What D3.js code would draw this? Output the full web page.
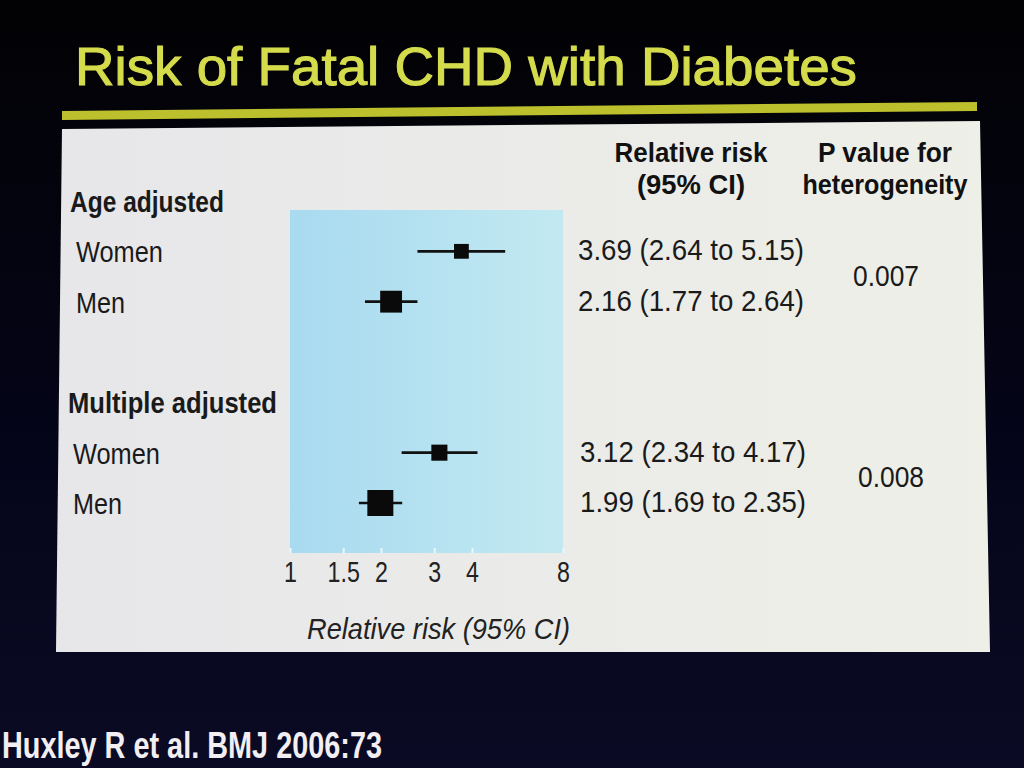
<!DOCTYPE html>
<html>
<head>
<meta charset="utf-8">
<script src="https://cdn.jsdelivr.net/npm/d3@7"></script>
<style>
  html, body { margin: 0; padding: 0; background: #04040a; }
  svg { display: block; }
</style>
</head>
<body>
<div id="chart"></div>
<script>
// forest plot data
var groups = ["Age adjusted", "Multiple adjusted"];
var subgroups = ["Women", "Men", "Women", "Men"];
var rr = [3.69, 2.16, 3.12, 1.99];
var ciLow = [2.64, 1.77, 2.34, 1.69];
var ciHigh = [5.15, 2.64, 4.17, 2.35];
var weights = [2.2, 4.8, 2.6, 6.8];
var pValues = ["0.007", "0.008"];
var tickValues = [1, 1.5, 2, 3, 4, 8];

var width = 1024;
var height = 768;
var font = "'Liberation Sans', Arial, Helvetica, sans-serif";

var svg = d3.select("#chart").append("svg")
	.attr("width", width)
	.attr("height", height);

//squeeze a text horizontally so it looks like a condensed face
function squash(sel, factor)
{
	sel.each(function()
	{
		var len = this.getComputedTextLength();
		d3.select(this)
			.attr("textLength", len * factor)
			.attr("lengthAdjust", "spacingAndGlyphs");
	});
}

var defs = svg.append("defs");

var bg = defs.append("linearGradient").attr("id", "bg")
	.attr("x1", 0).attr("y1", 0).attr("x2", 0).attr("y2", 1);
bg.append("stop").attr("offset", "0").attr("stop-color", "#020204");
bg.append("stop").attr("offset", "0.6").attr("stop-color", "#05051a");
bg.append("stop").attr("offset", "1").attr("stop-color", "#0a0a24");

var panelGrad = defs.append("linearGradient").attr("id", "panel")
	.attr("x1", 0).attr("y1", 0).attr("x2", 1).attr("y2", 0);
panelGrad.append("stop").attr("offset", "0").attr("stop-color", "#e7e7ea");
panelGrad.append("stop").attr("offset", "1").attr("stop-color", "#eeefe7");

var shade = defs.append("linearGradient").attr("id", "shade")
	.attr("x1", 0).attr("y1", 0).attr("x2", 1).attr("y2", 0);
shade.append("stop").attr("offset", "0").attr("stop-color", "#a8daf0");
shade.append("stop").attr("offset", "1").attr("stop-color", "#c2e9f1");

// slide background
svg.append("rect")
	.attr("width", width)
	.attr("height", height)
	.attr("fill", "url(#bg)");

// title
svg.append("text")
	.attr("x", 75)
	.attr("y", 85)
	.attr("textLength", 782)
	.attr("lengthAdjust", "spacingAndGlyphs")
	.style("font-family", font)
	.style("font-size", "54px")
	.style("fill", "#d5dc4c")
	.style("stroke", "#d5dc4c")
	.style("stroke-width", 1.1)
	.text("Risk of Fatal CHD with Diabetes");

// yellow rule under the title (photo is slightly tilted)
svg.append("polygon")
	.attr("points", "62,111 977,102 977,111 62,120")
	.attr("fill", "#bcc02c");

// white panel
svg.append("polygon")
	.attr("points", "62,129 980,121 990,652 56,652")
	.attr("fill", "url(#panel)");

// scales
var x = d3.scaleLog()
	.domain([1, 8])
	.range([290, 563]);

//row list: header, subgroup rows, spacer between groups
var rows = [];
groups.forEach(function(g, gi)
{
	if(gi > 0)
	{
		rows.push({key: "gap" + gi, type: "gap"});
	}
	rows.push({key: "h" + gi, type: "header", label: g});
	for(var i = gi * 2; i < gi * 2 + 2; i++)
	{
		rows.push({key: "r" + i, type: "row", label: subgroups[i], index: i});
	}
});

var y = d3.scalePoint()
	.domain(rows.map(function(r) { return r.key; }))
	.range([201, 503]);

var size = d3.scaleSqrt()
	.domain([0, d3.max(weights)])
	.range([0, 26]);

// shaded plot area
var plotTop = 210;
var plotBottom = 553;
svg.append("rect")
	.attr("x", x(1))
	.attr("y", plotTop)
	.attr("width", x(8) - x(1))
	.attr("height", plotBottom - plotTop)
	.attr("fill", "url(#shade)");

// axis
var axis = d3.axisBottom(x)
	.tickValues(tickValues)
	.tickFormat(d3.format(""))
	.tickSizeInner(-5)
	.tickSizeOuter(0)
	.tickPadding(8);

var axisG = svg.append("g")
	.attr("transform", "translate(0," + plotBottom + ")")
	.call(axis);
axisG.select(".domain").remove();
axisG.selectAll(".tick line")
	.attr("stroke", "#eaf7fb")
	.attr("stroke-width", 2);
axisG.selectAll(".tick text")
	.style("font-family", font)
	.style("font-size", "29px")
	.style("fill", "#222")
	.call(squash, 0.8);

svg.append("text")
	.attr("x", 307)
	.attr("y", 639)
	.attr("textLength", 263)
	.attr("lengthAdjust", "spacingAndGlyphs")
	.style("font-family", font)
	.style("font-style", "italic")
	.style("font-size", "30px")
	.style("fill", "#222")
	.text("Relative risk (95% CI)");

// left labels
var labelRows = rows.filter(function(r) { return r.type != "gap"; });
svg.selectAll(".rowlabel")
	.data(labelRows)
	.enter().append("text")
	.attr("class", "rowlabel")
	.attr("x", function(d)
		{
			if(d.type == "header")
			{
				return d.key == "h0" ? 70 : 68;
			}
			return d.index < 2 ? 76 : 73;
		})
	.attr("y", function(d) { return y(d.key) + 11; })
	.attr("textLength", function(d)
		{
			if(d.type == "header")
			{
				return d.key == "h0" ? 154 : 209;
			}
			return d.label == "Women" ? 87 : 49;
		})
	.attr("lengthAdjust", "spacingAndGlyphs")
	.style("font-family", font)
	.style("font-weight", function(d) { return d.type == "header" ? "bold" : "normal"; })
	.style("font-size", "30px")
	.style("fill", "#1a1a1a")
	.text(function(d) { return d.label; });

// estimates
var estRows = rows.filter(function(r) { return r.type == "row"; });

svg.selectAll(".ci")
	.data(estRows)
	.enter().append("line")
	.attr("class", "ci")
	.attr("x1", function(d) { return x(ciLow[d.index]); })
	.attr("x2", function(d) { return x(ciHigh[d.index]); })
	.attr("y1", function(d) { return y(d.key); })
	.attr("y2", function(d) { return y(d.key); })
	.attr("stroke", "#111")
	.attr("stroke-width", 2.6);

svg.selectAll(".est")
	.data(estRows)
	.enter().append("rect")
	.attr("class", "est")
	.attr("x", function(d) { return x(rr[d.index]) - size(weights[d.index]) / 2; })
	.attr("y", function(d) { return y(d.key) - size(weights[d.index]) / 2; })
	.attr("width", function(d) { return size(weights[d.index]); })
	.attr("height", function(d) { return size(weights[d.index]); })
	.attr("fill", "#0a0a0a");

// column headers
var headers = [
	{text: "Relative risk", cx: 691, y: 162, w: 153},
	{text: "(95% CI)", cx: 691, y: 194, w: 108},
	{text: "P value for", cx: 885, y: 162, w: 134},
	{text: "heterogeneity", cx: 885, y: 194, w: 165}
];
svg.selectAll(".colhead")
	.data(headers)
	.enter().append("text")
	.attr("class", "colhead")
	.attr("x", function(d) { return d.cx - d.w / 2; })
	.attr("y", function(d) { return d.y; })
	.attr("textLength", function(d) { return d.w; })
	.attr("lengthAdjust", "spacingAndGlyphs")
	.style("font-family", font)
	.style("font-weight", "bold")
	.style("font-size", "27px")
	.style("fill", "#111")
	.text(function(d) { return d.text; });

// relative risk text column
svg.selectAll(".rrtext")
	.data(estRows)
	.enter().append("text")
	.attr("class", "rrtext")
	.attr("x", function(d) { return d.index < 2 ? 578 : 580; })
	.attr("y", function(d) { return y(d.key) + 9; })
	.attr("textLength", 226)
	.attr("lengthAdjust", "spacingAndGlyphs")
	.style("font-family", font)
	.style("font-size", "29px")
	.style("fill", "#1a1a1a")
	.text(function(d)
		{
			var i = d.index;
			return rr[i].toFixed(2) + " (" + ciLow[i].toFixed(2) + " to " + ciHigh[i].toFixed(2) + ")";
		});

// p values, centred between the two rows of each group
svg.selectAll(".ptext")
	.data(pValues)
	.enter().append("text")
	.attr("class", "ptext")
	.attr("x", function(d, i) { return i == 0 ? 853 : 858; })
	.attr("y", function(d, i)
		{
			var a = y("r" + (i * 2));
			var b = y("r" + (i * 2 + 1));
			return (a + b) / 2 + 9;
		})
	.attr("textLength", 66)
	.attr("lengthAdjust", "spacingAndGlyphs")
	.style("font-family", font)
	.style("font-size", "29px")
	.style("fill", "#1a1a1a")
	.text(function(d) { return d; });

// citation
svg.append("text")
	.attr("x", 2)
	.attr("y", 758)
	.attr("textLength", 380)
	.attr("lengthAdjust", "spacingAndGlyphs")
	.style("font-family", font)
	.style("font-weight", "bold")
	.style("font-size", "37px")
	.style("fill", "#f2eef2")
	.text("Huxley R et al. BMJ 2006:73");
</script>
</body>
</html>
